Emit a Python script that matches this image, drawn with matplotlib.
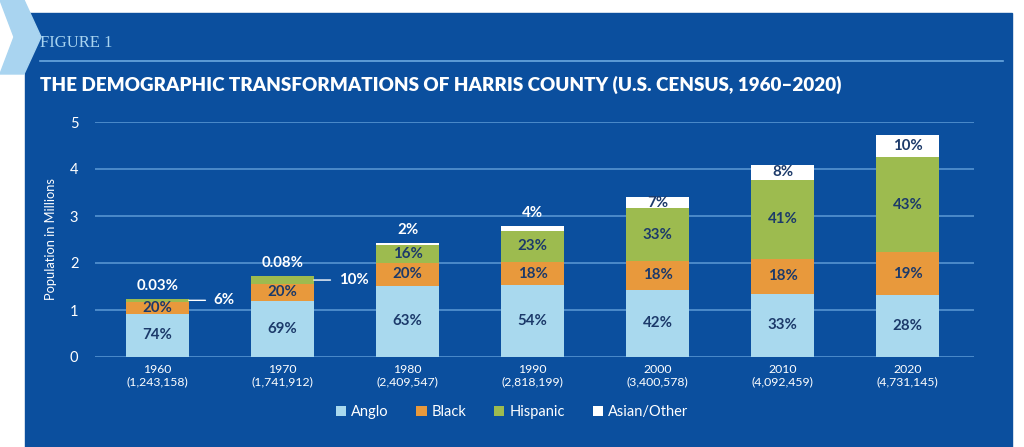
import numpy as np
import matplotlib.pyplot as plt
from matplotlib.patches import Rectangle, Polygon
from matplotlib.lines import Line2D

# -----------------------------
# DATA
# -----------------------------
years = ["1960", "1970", "1980", "1990", "2000", "2010", "2020"]
totals = [1243158, 1741912, 2409547, 2818199, 3400578, 4092459, 4731145]
anglo_pct = [74, 69, 63, 54, 42, 33, 28]
black_pct = [20, 20, 20, 18, 18, 18, 19]
hisp_pct = [6, 10, 16, 23, 33, 41, 43]
other_pct = [0.03, 0.08, 2, 4, 7, 8, 10]
other_lbl = ["0.03%", "0.08%", "2%", "4%", "7%", "8%", "10%"]

# -----------------------------
# STYLE
# -----------------------------
BG = "#0b4f9e"
C_ANGLO = "#a9d9ee"
C_BLACK = "#e8993c"
C_HISP = "#9dbb4f"
C_OTHER = "#ffffff"
NAVY = "#1c3a6a"
GRID = "#5c9ad6"
LIGHT = "#a9d4f0"

plt.rcParams['font.family'] = ['Lato', 'DejaVu Sans']

fig = plt.figure(figsize=(10.24, 4.47), dpi=100)
fig.patch.set_facecolor("white")

W, H = 1024, 447
def fx(x): return x / W
def fy(y): return 1 - y / H

# blue panel + chevron
fig.patches.append(Rectangle((fx(25), 0), fx(1012) - fx(25), fy(13),
                             transform=fig.transFigure, color=BG, zorder=-2))
fig.patches.append(Polygon([(fx(0), fy(0)), (fx(24), fy(0)), (fx(41), fy(37)),
                            (fx(24), fy(74)), (fx(0), fy(74)), (fx(14), fy(37))],
                           closed=True, transform=fig.transFigure, color=LIGHT, zorder=-1))

fig.text(fx(40), fy(43), "FIGURE 1", family=["Liberation Serif", "DejaVu Serif"],
         color=LIGHT, fontsize=12, va="center", ha="left")
fig.add_artist(Line2D([fx(40), fx(1003)], [fy(61), fy(61)], color="#6aa8e0",
                      lw=1.2, transform=fig.transFigure))
fig.text(fx(40), fy(85), "THE DEMOGRAPHIC TRANSFORMATIONS OF HARRIS COUNTY (U.S. CENSUS, 1960\u20132020)",
         color="white", fontsize=13.6, fontweight="heavy", va="center", ha="left")

# -----------------------------
# AXES
# -----------------------------
ax = fig.add_axes([fx(95), fy(357), fx(974) - fx(95), fy(122) - fy(357)])
ax.set_facecolor("none")
for s in ax.spines.values():
    s.set_visible(False)

x = np.arange(len(years))
tot_m = np.array(totals) / 1e6
anglo = np.array(anglo_pct) / 100 * tot_m
black = np.array(black_pct) / 100 * tot_m
hisp = np.array(hisp_pct) / 100 * tot_m
other = np.array(other_pct) / 100 * tot_m

bw = 0.5
ax.bar(x, anglo, bw, color=C_ANGLO, zorder=3, label="Anglo")
ax.bar(x, black, bw, bottom=anglo, color=C_BLACK, zorder=3, label="Black")
ax.bar(x, hisp, bw, bottom=anglo + black, color=C_HISP, zorder=3, label="Hispanic")
ax.bar(x, other, bw, bottom=anglo + black + hisp, color=C_OTHER, zorder=3, label="Asian/Other")

ax.set_ylim(0, 5)
ax.set_xlim(-0.5, 6.53)
ax.set_yticks(range(6))
ax.yaxis.grid(True, color=GRID, lw=1.1, zorder=0)
ax.set_axisbelow(True)
ax.tick_params(axis="y", length=0, pad=12, colors="white", labelsize=10.5)
ax.tick_params(axis="x", length=0, pad=5, colors="white", labelsize=8.8)
ax.set_xticks(x)
ax.set_xticklabels([f"{y}\n({t:,})" for y, t in zip(years, totals)], linespacing=1.2)
ax.set_ylabel("Population in Millions", color="white", fontsize=9.3, labelpad=9)

lab = dict(color=NAVY, fontsize=10.8, fontweight="bold", ha="center", va="center", zorder=5)
for i in range(len(years)):
    ax.text(x[i], anglo[i] / 2, f"{anglo_pct[i]}%", **lab)
    ax.text(x[i], anglo[i] + black[i] / 2, f"{black_pct[i]}%", **lab)
    top = anglo[i] + black[i] + hisp[i]
    if i < 2:
        # hispanic slice too thin: label on the side with leader line
        ym = anglo[i] + black[i] + hisp[i] / 2
        ax.annotate(f"{hisp_pct[i]}%", xy=(x[i] + bw / 2, ym), xytext=(x[i] + 0.45, ym),
                    color="white", fontsize=10.8, fontweight="bold", va="center", ha="left",
                    arrowprops=dict(arrowstyle="-", color="white", lw=1, shrinkA=4, shrinkB=0))
    else:
        ax.text(x[i], anglo[i] + black[i] + hisp[i] / 2, f"{hisp_pct[i]}%", **lab)
    if i < 4:
        ax.annotate(other_lbl[i], xy=(x[i], top + other[i]), xytext=(0, 4),
                    textcoords="offset points", color="white", fontsize=10.8,
                    fontweight="bold", ha="center", va="bottom")
    else:
        ax.text(x[i], top + other[i] / 2, other_lbl[i], **lab)

leg = fig.legend(loc="center", bbox_to_anchor=(0.5, fy(412)), ncol=4, frameon=False,
                 fontsize=10.5, handlelength=0.7, handleheight=0.7, handletextpad=0.35,
                 columnspacing=1.9, labelcolor="white")

plt.savefig("out.png", dpi=100, facecolor=fig.get_facecolor())
